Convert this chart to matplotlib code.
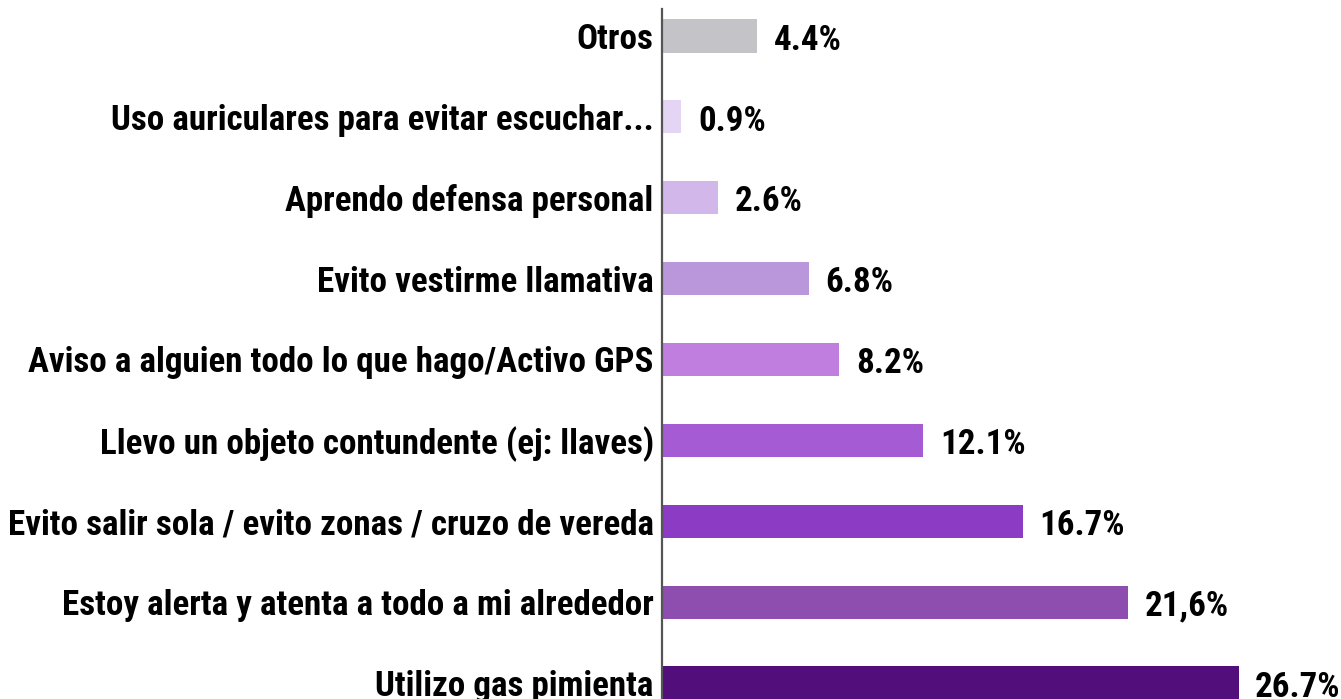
import matplotlib
matplotlib.use('Agg')
import matplotlib.pyplot as plt
from matplotlib import font_manager

# datos (de abajo hacia arriba)
categorias = [
    'Utilizo gas pimienta',
    'Estoy alerta y atenta a todo a mi alrededor',
    'Evito salir sola / evito zonas / cruzo de vereda',
    'Llevo un objeto contundente (ej: llaves)',
    'Aviso a alguien todo lo que hago/Activo GPS',
    'Evito vestirme llamativa',
    'Aprendo defensa personal',
    'Uso auriculares para evitar escuchar...',
    'Otros',
]
valores = [26.7, 21.6, 16.7, 12.1, 8.2, 6.8, 2.6, 0.9, 4.4]
etiquetas = ['26.7%', '21,6%', '16.7%', '12.1%', '8.2%', '6.8%', '2.6%', '0.9%', '4.4%']
colores = ['#520E7B', '#8E4EAF', '#8C3BC4', '#A55BD3', '#C07FDE',
           '#BA97DB', '#D2B8EA', '#E3D5F3', '#C3C3C8']

nombres = {f.name for f in font_manager.fontManager.ttflist}
candidatas = ['Roboto Condensed', 'Liberation Sans Narrow', 'Open Sans Condensed', 'Roboto']
fuente = next((c for c in candidatas if c in nombres), 'DejaVu Sans')

fig = plt.figure(figsize=(13.41, 6.99), dpi=100)
ax = fig.add_axes([0.4937, 0, 0.483, 1])

# ajustar el tamaño para que la etiqueta más larga ocupe ~645 px
r = fig.canvas.get_renderer()
t = fig.text(0, 0, categorias[2], fontsize=20, fontweight='black', family=fuente)
w = t.get_window_extent(r).width
t.remove()
fs = 20 * 645 / w

y = list(range(len(categorias)))
ax.barh(y, valores, height=0.41, color=colores)

ax.set_xlim(0, 30)
ax.set_ylim(-0.198, 8.445)

for yi, v, et in zip(y, valores, etiquetas):
    ax.annotate(et, (v, yi), xytext=(12, -3), textcoords='offset points',
                ha='left', va='center', fontsize=fs, fontweight='black',
                family=fuente, color='black')

ax.set_yticks(y)
ax.set_yticklabels(categorias, fontsize=fs, fontweight='black', family=fuente)
ax.tick_params(axis='y', length=0, pad=6)
ax.set_xticks([])

for s in ['top', 'right', 'bottom']:
    ax.spines[s].set_visible(False)
ax.spines['left'].set_color('#555555')
ax.spines['left'].set_linewidth(1.6)
ax.spines['left'].set_bounds(-0.198, 8.33)

fig.savefig('out.png', dpi=100)
